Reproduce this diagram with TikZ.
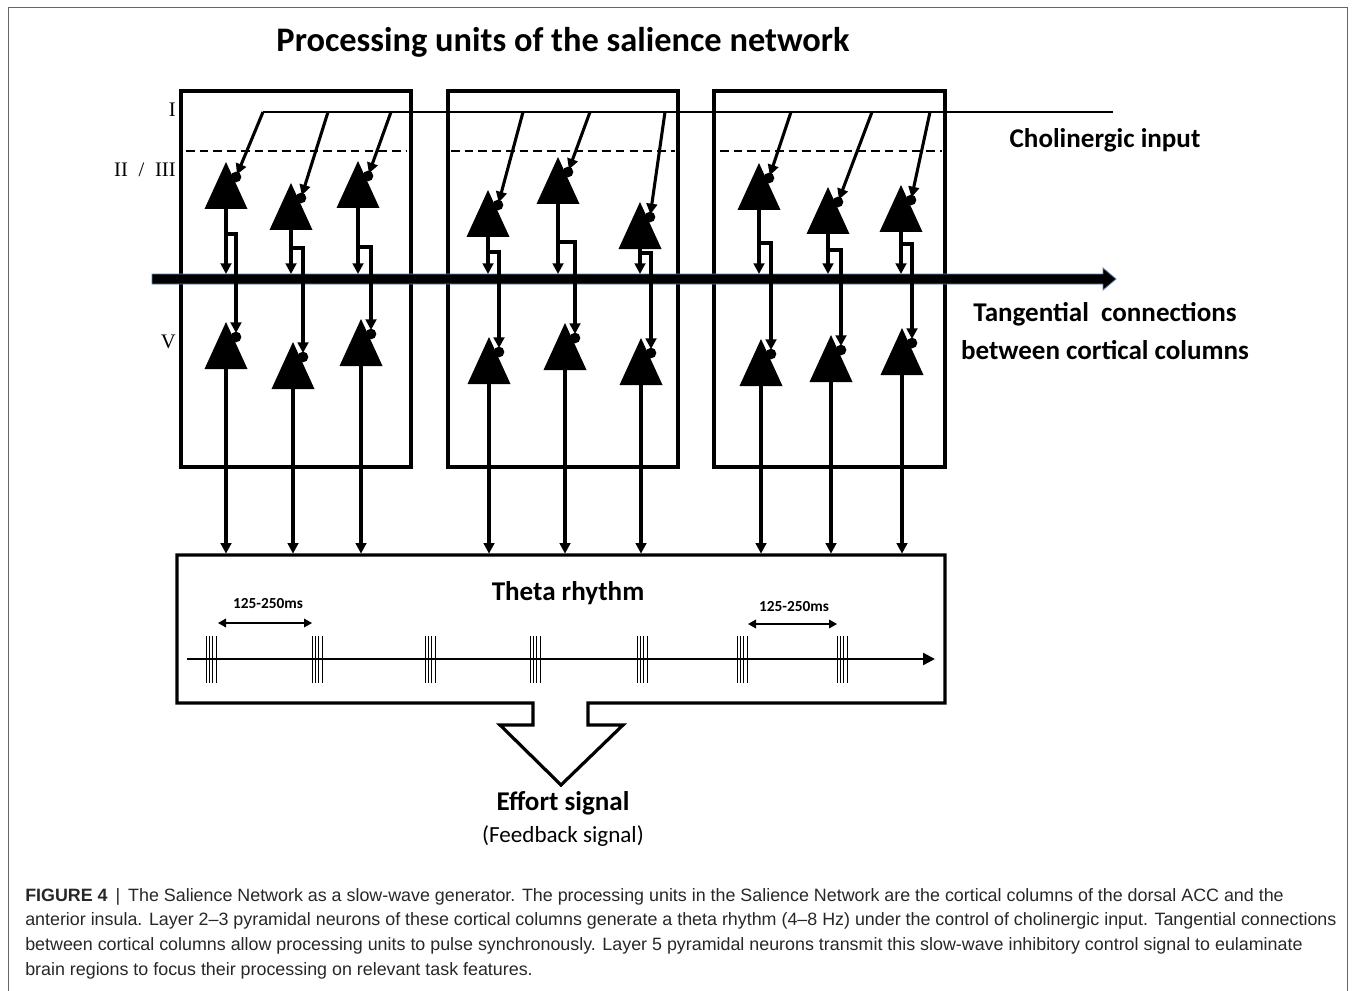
\documentclass[tikz,border=0pt]{standalone}
\usepackage{fontspec}
\setmainfont{Liberation Serif}
\newfontfamily\calibri{Carlito}
\newfontfamily\helv{Liberation Sans}
\usetikzlibrary{arrows.meta,calc}

\definecolor{barEdge}{RGB}{90,130,175}
\definecolor{capGray}{RGB}{40,38,40}

\tikzset{
  colbox/.style={line width=2.4pt,line join=miter},
  axon/.style={line width=2.3pt,-{Triangle[length=8pt,width=8pt]}},
  achline/.style={line width=1.6pt},
  layerdash/.style={line width=1.4pt,dash pattern=on 6.5pt off 3.8pt},
  burst/.style={line width=0.7pt},
  msspan/.style={line width=1pt,{Triangle[length=6pt,width=6.5pt]}-{Triangle[length=6pt,width=6.5pt]}},
  boldlabel/.style={font=\calibri\bfseries\fontsize{20.3}{24}\selectfont,inner sep=0.75pt},
  layerlabel/.style={font=\fontsize{15.5}{18}\selectfont,inner sep=0pt,anchor=east},
}

% pyramidal neuron: name, apex x, apex y
\newcommand{\neuron}[3]{%
  \coordinate (#1) at (#2,#3);
  \coordinate (#1b) at (#2,#3+47);
  \coordinate (#1s) at (#2+10,#3+15);
  \fill (#1) -- ++(21.5,47) -- ++(-43,0) -- cycle;
  \fill (#1s) circle (4pt);
}

\begin{document}
\begin{tikzpicture}[x=0.75pt,y=0.75pt,yscale=-1,xscale=1]
\useasboundingbox (0,0) rectangle (1355,991);

%Shape: Frame
\draw[gray!80!black,line width=0.75pt] (8,1000) -- (8,8) -- (1347,8) -- (1347,1000);

%Shape: Rectangle [columns]
\draw[colbox] (181,91) rectangle (411,467);
\draw[colbox] (448,91) rectangle (678,467);
\draw[colbox] (714,91) rectangle (945,467);
%Straight Lines [layer border]
\draw[layerdash] (186,151) -- (407,151);
\draw[layerdash] (451,151) -- (675,151);
\draw[layerdash] (720,151) -- (942,151);

%Shape: Tangential bar
\coordinate (bar0) at (152,279);
\coordinate (bar1) at (1116,279);
\filldraw[fill=black,draw=barEdge,line width=0.6pt] (152,274) -- (1103,274) -- (1103,268) -- (bar1) -- (1103,290) -- (1103,284) -- (152,284) -- cycle;

%Straight Lines [cholinergic input]
\coordinate (ach0) at (263,112);
\coordinate (ach1) at (1113,112);
\draw[achline] (ach0) -- (ach1);

% Layer II / III neurons
\neuron{n1a}{226}{162} \neuron{n1b}{291}{183} \neuron{n1c}{358}{161}
\neuron{n2a}{488}{190} \neuron{n2b}{558}{157} \neuron{n2c}{640}{202}
\neuron{n3a}{759}{163} \neuron{n3b}{828}{187} \neuron{n3c}{901}{185}
% Layer V neurons
\neuron{v1a}{226}{322} \neuron{v1b}{293}{342} \neuron{v1c}{361}{319}
\neuron{v2a}{489}{337} \neuron{v2b}{565}{323} \neuron{v2c}{641}{338}
\neuron{v3a}{761}{339} \neuron{v3b}{831}{335} \neuron{v3c}{902}{328}

% inputs from the cholinergic line
\coordinate (i1b) at (328,112); \coordinate (i1c) at (391,112);
\coordinate (i2a) at (523,112); \coordinate (i2b) at (590,112); \coordinate (i2c) at (665,112);
\coordinate (i3a) at (791,112); \coordinate (i3b) at (872,112); \coordinate (i3c) at (930,112);
\draw[axon,shorten >=2pt] (ach0) -- (n1as);
\draw[axon,shorten >=2pt] (i1b) -- (n1bs);
\draw[axon,shorten >=2pt] (i1c) -- (n1cs);
\draw[axon,shorten >=2pt] (i2a) -- (n2as);
\draw[axon,shorten >=2pt] (i2b) -- (n2bs);
\draw[axon,shorten >=2pt] (i2c) -- (n2cs);
\draw[axon,shorten >=2pt] (i3a) -- (n3as);
\draw[axon,shorten >=2pt] (i3b) -- (n3bs);
\draw[axon,shorten >=2pt] (i3c) -- (n3cs);

% stems to the tangential bar
\foreach \n in {n1a,n1b,n1c,n2a,n2b,n2c,n3a,n3b,n3c}
  \draw[axon,shorten >=3.75pt] (\n b) -- (\n b |- bar0);

% branches down to layer V
\coordinate (k1a) at (226,234); \coordinate (k1b) at (291,248); \coordinate (k1c) at (358,247);
\coordinate (k2a) at (488,252); \coordinate (k2b) at (558,242); \coordinate (k2c) at (640,253);
\coordinate (k3a) at (759,243); \coordinate (k3b) at (828,250); \coordinate (k3c) at (901,244);
\draw[axon,shorten >=3pt] (k1a) -| (v1as);
\draw[axon,shorten >=3pt] (k1b) -| (v1bs);
\draw[axon,shorten >=3pt] (k1c) -| (v1cs);
\draw[axon,shorten >=3pt] (k2a) -| (v2as);
\draw[axon,shorten >=3pt] (k2b) -| (v2bs);
\draw[axon,shorten >=3pt] (k2c) -| (v2cs);
\draw[axon,shorten >=3pt] (k3a) -| (v3as);
\draw[axon,shorten >=3pt] (k3b) -| (v3bs);
\draw[axon,shorten >=3pt] (k3c) -| (v3cs);

%Shape: Theta box with effort arrow
\coordinate (thnw) at (177,555);
\draw[colbox] (533,725) -- (533,703) -- (177,703) -- (thnw) -- (945,555) -- (945,703) -- (588,703) -- (588,725) -- (623,725) -- (561,785) -- (500,725) -- cycle;

% layer V outputs to the theta box
\foreach \n in {v1a,v1b,v1c,v2a,v2b,v2c,v3a,v3b,v3c}
  \draw[axon,shorten >=1pt] (\n b) -- (\n b |- thnw);

%Straight Lines [time axis]
\coordinate (t0) at (187,659);
\coordinate (t1) at (935,659);
\draw[line width=1.8pt,-{Triangle[length=9pt,width=9pt]}] (t0) -- (t1);
\foreach \bx in {206,312,425,530,637,737,837}
  \foreach \k in {0,1,2,3}
    \draw[burst] (\bx+\k*3.4,636) -- (\bx+\k*3.4,683);
\coordinate (p1) at (218,623); \coordinate (p2) at (312,623);
\coordinate (p3) at (748,624); \coordinate (p4) at (837,624);
\draw[msspan] (p1) -- (p2);
\draw[msspan] (p3) -- (p4);

% Text Node
\node[font=\calibri\bfseries\fontsize{25.8}{30}\selectfont,inner sep=0.75pt] (title) at (563,42) {Processing units of the salience network};
% Text Node
\node[layerlabel] (lay1) at (176,110) {I};
% Text Node
\node[layerlabel] (lay23) at (176,170) {II\hspace{8pt}/\hspace{8pt}III};
% Text Node
\node[layerlabel] (lay5) at (176,342) {V};
% Text Node
\node[boldlabel] (achlab) at (1105,140) {Cholinergic input};
% Text Node
\node[boldlabel] (tanlab) at (1105,314) {Tangential\ \ connections};
% Text Node
\node[boldlabel] (tanlab2) at (1105,350) {between cortical columns};
% Text Node
\node[boldlabel] (thetalab) at (568,593) {Theta rhythm};
% Text Node
\node[font=\calibri\bfseries\fontsize{11.5}{14}\selectfont,inner sep=0.75pt] (ms1) at (268,604) {125-250ms};
% Text Node
\node[font=\calibri\bfseries\fontsize{11.5}{14}\selectfont,inner sep=0.75pt] (ms2) at (794,607) {125-250ms};
% Text Node
\node[boldlabel] (effort) at (563,803) {Effort signal};
% Text Node
\node[font=\calibri\fontsize{17.3}{21}\selectfont,inner sep=0.75pt] (feedback) at (563,836) {(Feedback signal)};
% Text Node
\node[anchor=north west,inner sep=0pt,align=left,text=capGray,font=\helv\fontsize{13.4}{18.5}\selectfont] (caption) at (25,888) {\textbf{FIGURE 4}\, | \,The Salience Network as a slow-wave generator. The processing units in the Salience Network are the cortical columns of the dorsal ACC and the\\anterior insula. Layer 2–3 pyramidal neurons of these cortical columns generate a theta rhythm (4–8 Hz) under the control of cholinergic input. Tangential connections\\between cortical columns allow processing units to pulse synchronously. Layer 5 pyramidal neurons transmit this slow-wave inhibitory control signal to eulaminate\\brain regions to focus their processing on relevant task features.};
\end{tikzpicture}
\end{document}
